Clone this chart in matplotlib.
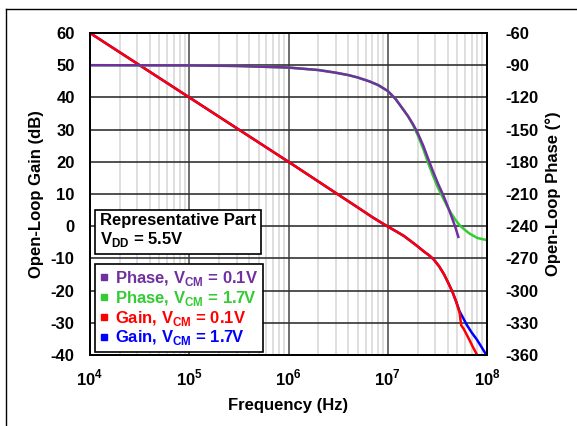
#!/usr/bin/env python3
import matplotlib
matplotlib.use('Agg')
import matplotlib.pyplot as plt
from matplotlib.lines import Line2D
from matplotlib.ticker import LogLocator, NullFormatter

plt.rcParams['font.family'] = 'Liberation Sans'
plt.rcParams['font.weight'] = 'bold'
plt.rcParams['axes.unicode_minus'] = False
plt.rcParams['mathtext.fontset'] = 'custom'
plt.rcParams['mathtext.rm'] = 'Liberation Sans:bold'
plt.rcParams['mathtext.bf'] = 'Liberation Sans:bold'

# Gain curves (Hz, dB)
gain_01_f = [1e4, 1e5, 1e6, 3e6, 5e6, 7e6, 8.5e6, 1e7, 1.2e7, 1.45e7, 1.7e7, 1.95e7,
             2.3e7, 2.6e7, 2.9e7, 3.3e7, 3.7e7, 4.1e7, 4.5e7, 4.9e7, 5.3e7,
             5.5e7, 5.8e7, 6.2e7, 6.7e7, 7.2e7, 7.9e7]
gain_01 = [60, 40, 20, 10.3, 5.8, 2.8, 1.2, -0.1, -1.5, -3.0, -4.6, -6.0,
           -7.8, -9.0, -10.3, -12.5, -15.0, -17.8, -20.5, -23.5, -27.0,
           -30.8, -31.8, -33.5, -35.5, -37.5, -39.8]
gain_17_f = [1e4, 1e5, 1e6, 3e6, 5e6, 7e6, 8.5e6, 1e7, 1.2e7, 1.45e7, 1.7e7, 1.95e7,
             2.3e7, 2.6e7, 2.9e7, 3.3e7, 3.7e7, 4.1e7, 4.5e7, 4.9e7, 5.3e7,
             5.75e7, 6.3e7, 7e7, 7.9e7, 9e7, 1e8]
gain_17 = [60, 40, 20, 10.3, 5.8, 2.8, 1.2, -0.1, -1.5, -3.0, -4.6, -6.0,
           -7.8, -9.0, -10.3, -12.5, -15.0, -17.8, -20.5, -23.5, -26.5,
           -28.5, -30.8, -33.0, -35.2, -38.0, -40.3]

# Phase curves (Hz, degrees)
phase_01_f = [1e4, 1e5, 3e5, 1e6, 2e6, 3e6, 4e6, 5e6, 6.5e6, 8e6, 1e7, 1.2e7, 1.4e7,
              1.6e7, 1.8e7, 2.0e7, 2.28e7, 2.55e7, 2.86e7, 3.2e7, 3.62e7, 4.0e7,
              4.39e7, 4.8e7, 5.14e7]
phase_01 = [-90, -90.2, -90.7, -92.2, -94.5, -97, -99.2, -101.5, -105, -108.5, -114,
            -121.5, -130, -137.5, -145, -153, -165, -177, -189, -200, -211, -221,
            -231, -241, -250]
phase_17_f = [1e4, 1e5, 3e5, 1e6, 2e6, 3e6, 4e6, 5e6, 6.5e6, 8e6, 1e7, 1.2e7, 1.4e7,
              1.6e7, 1.8e7, 2.0e7, 2.28e7, 2.55e7, 2.86e7, 3.2e7, 3.62e7, 4.0e7,
              4.39e7, 4.8e7, 5.35e7, 6e7, 6.7e7, 8e7, 1e8]
phase_17 = [-90, -90.2, -90.7, -92.2, -94.5, -97, -99.2, -101.5, -105, -108.5, -114,
            -121.5, -130, -137.5, -146, -155, -168, -181, -193, -204, -214, -222,
            -228.5, -234, -239.5, -243.5, -247, -251, -253]

x_ticks = [1e4, 1e5, 1e6, 1e7, 1e8]
x_labels = [r'10$^{\mathrm{4}}$', r'10$^{\mathrm{5}}$', r'10$^{\mathrm{6}}$',
            r'10$^{\mathrm{7}}$', r'10$^{\mathrm{8}}$']
gain_ticks = list(range(-40, 61, 10))
phase_ticks = list(range(-360, -59, 30))

labels = [r'Phase, V$_{\mathrm{CM}}$ = 0.1V', r'Phase, V$_{\mathrm{CM}}$ = 1.7V',
          r'Gain, V$_{\mathrm{CM}}$ = 0.1V', r'Gain, V$_{\mathrm{CM}}$ = 1.7V']
colors = ['#7030a0', '#33cc33', '#ff0000', '#0000ff']

fig = plt.figure(figsize=(5.77, 4.26), dpi=100)
ax = fig.add_axes([90/577, 1-355/426, 397/577, 322/426])
ax2 = ax.twinx()

ax.set_xscale('log')
ax.set_xlim(1e4, 1e8)
ax.set_ylim(-40, 60)
ax2.set_ylim(-360, -60)

ax.xaxis.set_minor_locator(LogLocator(base=10, subs=range(2, 10), numticks=50))
ax.xaxis.set_minor_formatter(NullFormatter())
ax.set_xticks(x_ticks)
ax.set_xticklabels(x_labels)
ax.set_yticks(gain_ticks)
ax2.set_yticks(phase_ticks)

ax.grid(True, which='minor', axis='x', color='#d9d9d9', linewidth=1.2)
ax.grid(True, which='major', axis='x', color='#555555', linewidth=1.2)
ax.grid(True, which='major', axis='y', color='#333333', linewidth=1.2)
ax.set_axisbelow(True)

ax.tick_params(axis='both', which='both', length=0, labelsize=12)
ax.tick_params(axis='y', pad=11)
ax.tick_params(axis='x', pad=9)
ax2.tick_params(axis='y', length=0, labelsize=12, pad=13)
for a in (ax, ax2):
    for s in a.spines.values():
        s.set_linewidth(1.3)
        s.set_color('black')

ax.plot(gain_17_f, gain_17, color=colors[3], linewidth=1.8, zorder=3)
ax.plot(gain_01_f, gain_01, color=colors[2], linewidth=1.8, zorder=4)
ax2.plot(phase_17_f, phase_17, color=colors[1], linewidth=1.8)
ax2.plot(phase_01_f, phase_01, color=colors[0], linewidth=1.8)

ax.set_xlabel('Frequency (Hz)', fontsize=12, fontweight='bold', labelpad=7)
ax.set_ylabel('Open-Loop Gain (dB)', fontsize=12, fontweight='bold', labelpad=5)
ax2.set_ylabel('Open-Loop Phase (°)', fontsize=12, fontweight='bold', labelpad=5)

ax2.text(0.025, 0.44, 'Representative Part\n' + r'V$_{\mathrm{DD}}$ = 5.5V',
         transform=ax2.transAxes, fontsize=12, fontweight='bold', va='top', ha='left',
         linespacing=1.15,
         bbox=dict(boxstyle='square,pad=0.3', facecolor='white', edgecolor='black', linewidth=1.2),
         zorder=10)

handles = [Line2D([], [], marker='s', linestyle='', color=c, markersize=5) for c in colors]
leg = ax2.legend(handles, labels, loc='lower left', bbox_to_anchor=(0.012, 0.008),
                 fontsize=12, frameon=True, fancybox=False, framealpha=1,
                 edgecolor='black', handlelength=0.5, handletextpad=0.4,
                 labelspacing=0.05, borderpad=0.3, borderaxespad=0)
leg.get_frame().set_linewidth(1.2)
for t, c in zip(leg.get_texts(), colors):
    t.set_color(c)
leg.set_zorder(10)

# outer frame (left and top edges visible)
fig.add_artist(Line2D([6/577, 6/577], [0, 1-9/426], transform=fig.transFigure,
                      color='black', linewidth=1))
fig.add_artist(Line2D([6/577, 1], [1-9/426, 1-9/426], transform=fig.transFigure,
                      color='black', linewidth=1))

fig.savefig('out.png', dpi=100)
